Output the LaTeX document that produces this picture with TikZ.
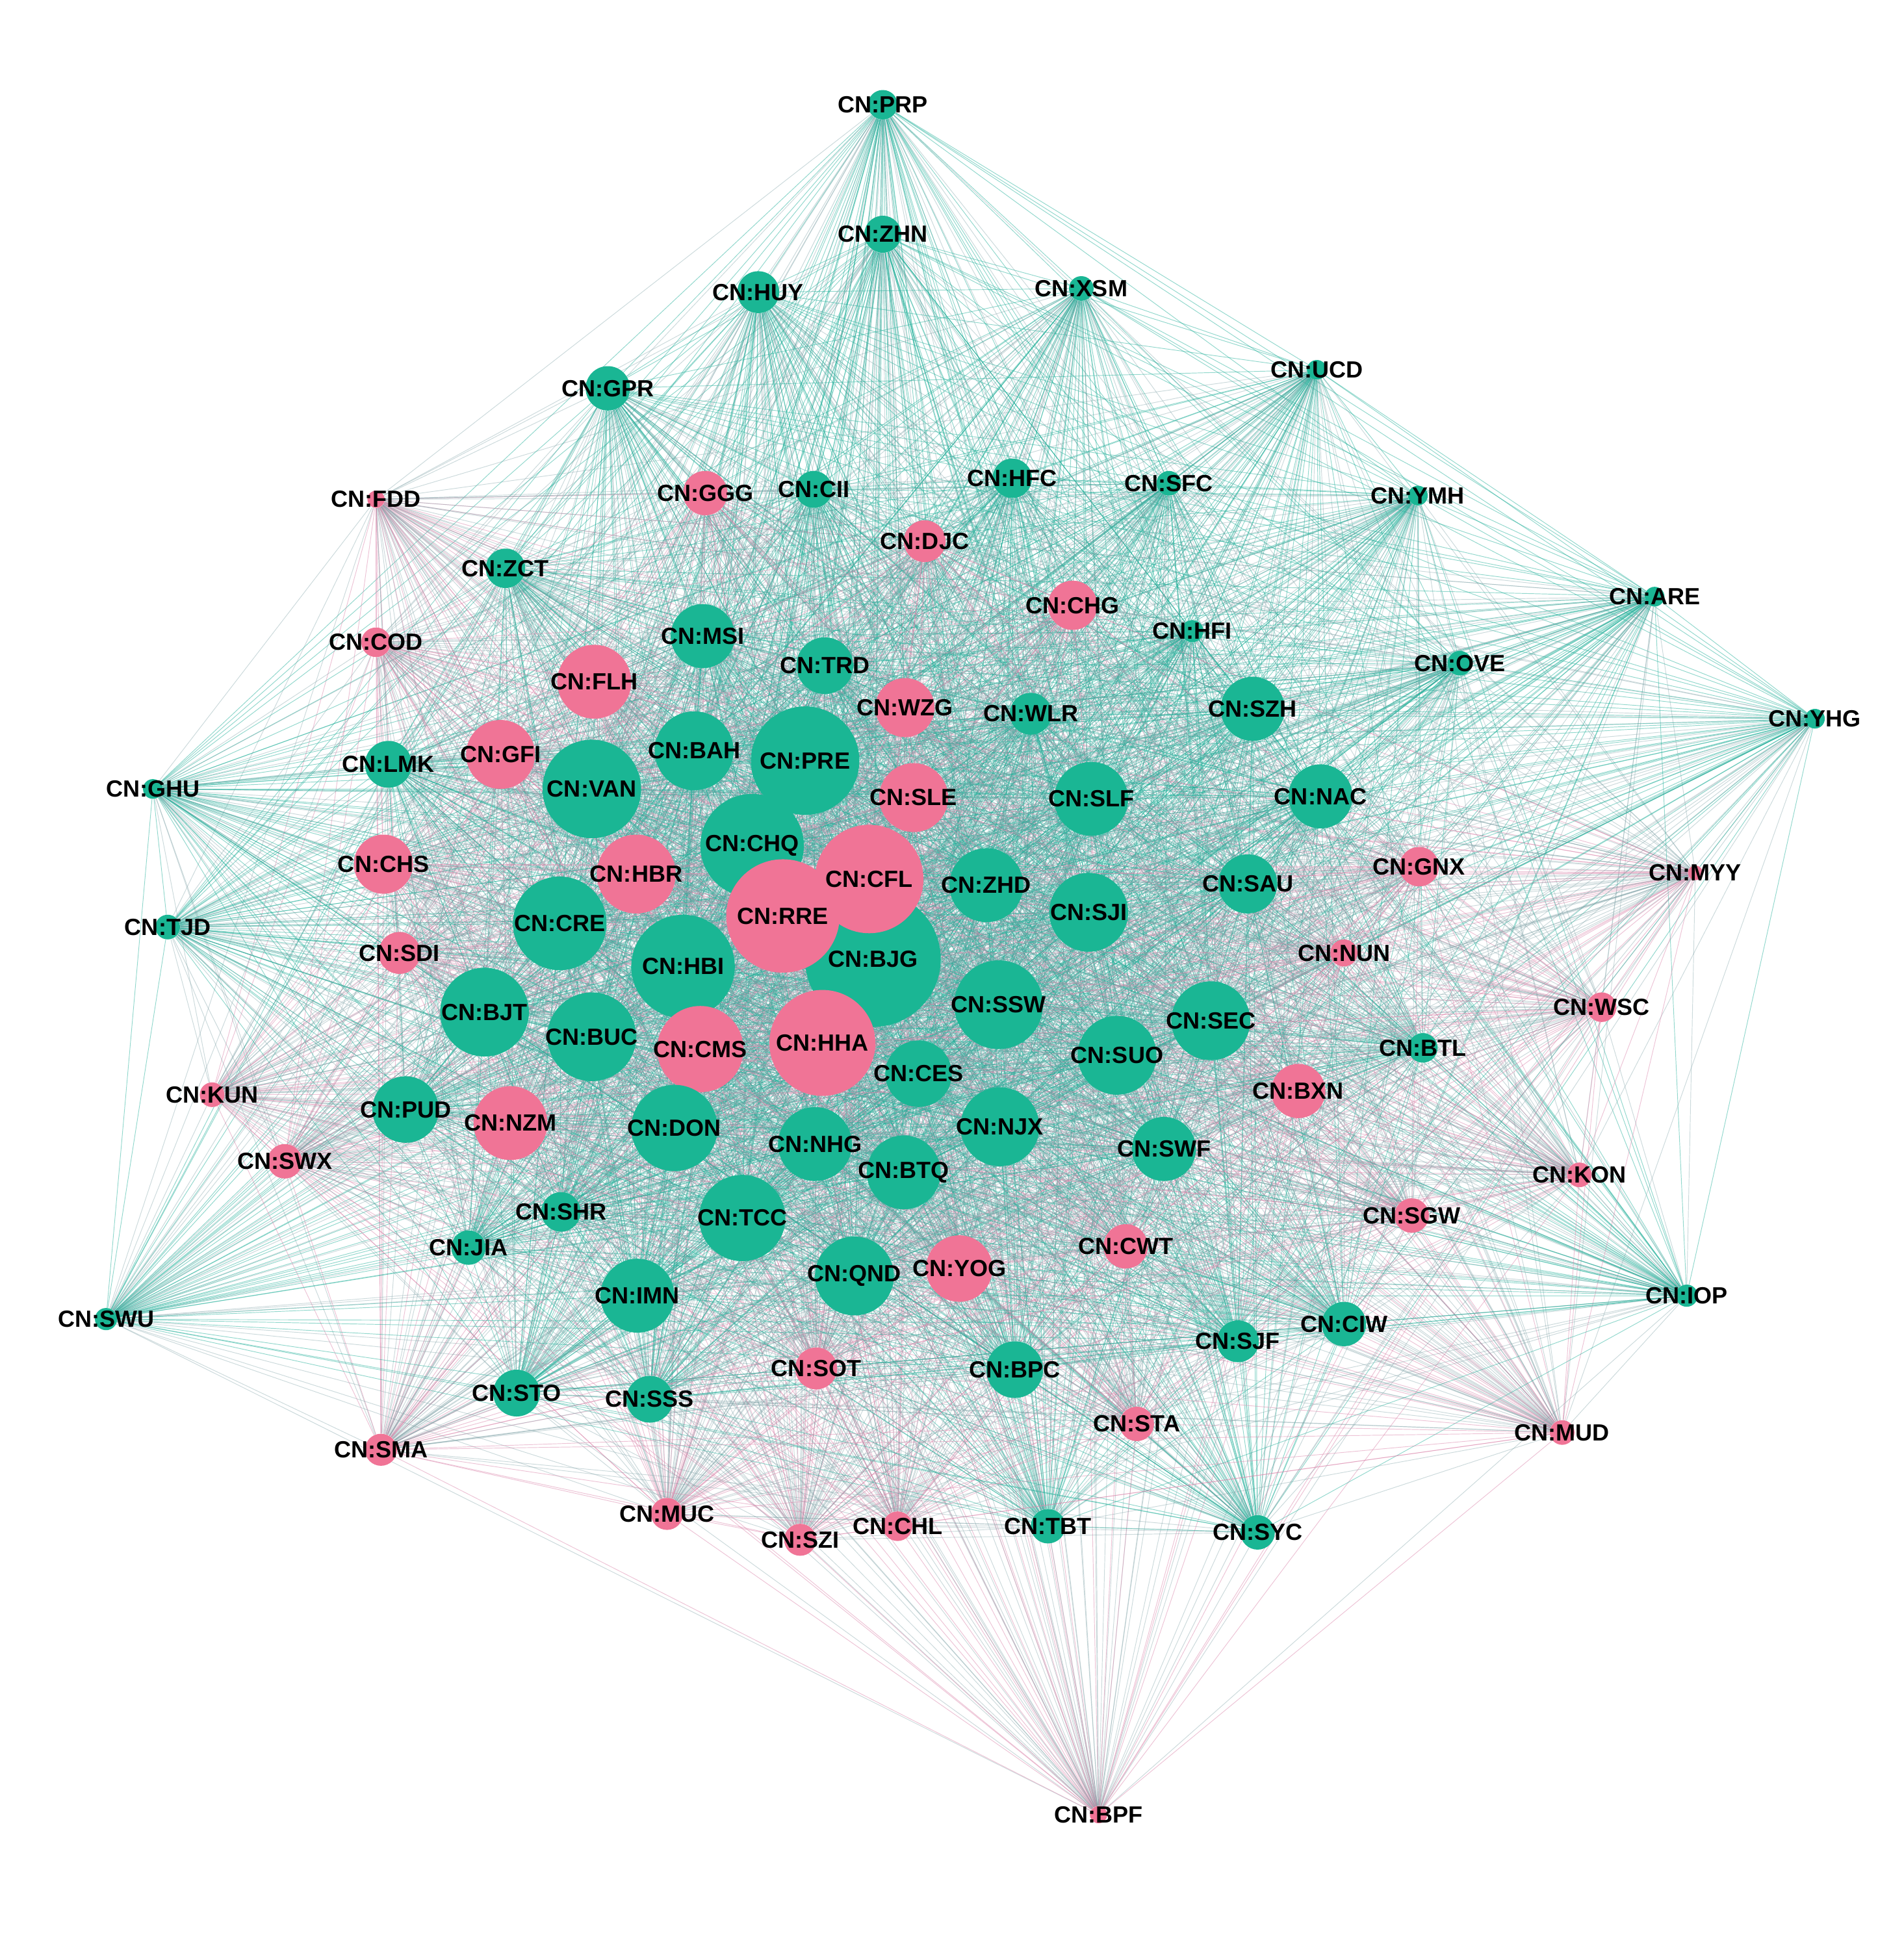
\documentclass[tikz,border=0pt]{standalone}
\usepackage{fontspec}
\setmainfont{Liberation Sans}
\definecolor{nteal}{RGB}{26,182,148}
\definecolor{npink}{RGB}{240,116,150}
\definecolor{eteal}{RGB}{34,176,154}
\definecolor{epink}{RGB}{220,135,172}
\definecolor{emix}{RGB}{125,160,165}
\pgfdeclarelayer{bg}
\pgfdeclarelayer{edges}
\pgfdeclarelayer{labels}
\pgfsetlayers{bg,edges,main,labels}
\tikzset{
  nodeT/.style={circle,fill=nteal,inner sep=0pt,draw=none},
  nodeP/.style={circle,fill=npink,inner sep=0pt,draw=none},
  lbl/.style={font=\fontsize{19}{20}\selectfont\bfseries,text=black,inner sep=0pt},
  ebase/.style={line width=0.5pt,draw opacity=0.5},
  edgeTT/.style={ebase,draw=eteal},
  edgePP/.style={ebase,draw=epink},
  edgeTP/.style={ebase,draw=emix,draw opacity=0.4},
  edgePT/.style={ebase,draw=emix,draw opacity=0.4}
}
\def\nodedata{PRP/716/85/12/T, ZHN/716/190/15/T, HUY/615/237/17/T, XSM/877/234/10/T,
UCD/1068/300/8/T, GPR/493/315/18/T, FDD/305/405/7/P, GGG/572/400/18/P,
CII/660/397/15/T, HFC/821/388/16/T, SFC/948/392/10/T, YMH/1150/402/8/T,
DJC/750/439/17/P, ZCT/410/461/16/T, CHG/870/491/20/P, HFI/967/512/9/T,
ARE/1342/484/8/T, COD/305/521/12/P, MSI/570/516/26/T, TRD/669/540/23/T,
FLH/482/553/30/P, OVE/1184/538/10/T, WZG/734/574/24/P, WLR/836/579/17/T,
SZH/1016/575/26/T, YHG/1472/583/8/T, GHU/124/640/8/T, LMK/315/620/19/T,
GFI/406/612/28/P, VAN/480/640/40/T, BAH/563/609/32/T, PRE/653/617/44/T,
SLE/741/647/28/P, SLF/885/648/30/T, NAC/1071/646/26/T, CHS/311/701/24/P,
HBR/516/709/32/P, CHQ/610/686/42/T, BJG/708/778/55/T, CFL/705/713/44/P,
ZHD/800/718/30/T, SJI/883/740/32/T, SAU/1012/717/24/T, GNX/1151/703/16/P,
MYY/1375/708/6/P, TJD/136/752/10/T, CRE/454/749/38/T, RRE/635/743/46/P,
HBI/554/784/42/T, SDI/324/773/17/P, NUN/1090/773/11/P, SSW/810/815/36/T,
BJT/393/821/36/T, BUC/480/841/36/T, CMS/568/851/35/P, HHA/667/846/43/P,
SEC/982/828/32/T, WSC/1299/817/12/P, BTL/1154/850/12/T, CES/745/871/27/T,
SUO/906/856/32/T, KUN/172/888/10/P, BXN/1053/885/22/P, PUD/329/900/27/T,
NZM/414/911/30/P, DON/547/915/35/T, NHG/661/928/30/T, NJX/811/914/32/T,
BTQ/733/951/30/T, SWF/944/932/26/T, SWX/231/942/14/P, KON/1281/953/10/P,
SHR/455/983/16/T, TCC/602/988/35/T, SGW/1145/986/14/P, CWT/913/1011/18/P,
JIA/380/1012/14/T, QND/693/1035/32/T, YOG/778/1029/27/P, IMN/517/1051/30/T,
IOP/1368/1051/9/T, SWU/86/1070/9/T, CIW/1090/1074/18/T, SJF/1004/1088/17/T,
SOT/662/1110/17/P, BPC/823/1111/23/T, STO/419/1130/19/T, SSS/527/1135/19/T,
STA/922/1155/14/P, MUD/1267/1162/10/P, SMA/309/1176/13/P, MUC/541/1228/13/P,
SZI/649/1249/13/P, CHL/728/1238/12/P, TBT/850/1238/14/T, SYC/1020/1243/14/T,
BPF/891/1472/7/P}
\begin{document}
\begin{tikzpicture}[x=1pt,y=-1pt]
\begin{pgfonlayer}{bg}
\fill[white] (0,0) rectangle (1544,1568);
\end{pgfonlayer}
\useasboundingbox (0,0) rectangle (1544,1568);
% nodes
\foreach \n/\x/\y/\r/\c in \nodedata {
  \node[node\c,minimum size={2*\r pt}] (\n) at (\x,\y) {};
}
% edges
\begin{pgfonlayer}{edges}
\foreach \na/\xa/\ya/\ra/\ca [count=\i] in \nodedata {
  \foreach \nb/\xb/\yb/\rb/\cb [count=\j] in \nodedata {
    \ifnum\j>\i
      \pgfmathtruncatemacro\keep{veclen(\xa-\xb,\ya-\yb)<1150 ? 1 : 0}
      \ifnum\keep=1
        \draw[edge\ca\cb] (\na) -- (\nb);
      \fi
    \fi
  }
}
\end{pgfonlayer}
% labels
\begin{pgfonlayer}{labels}
\foreach \n/\x/\y/\r/\c in \nodedata {
  \node[lbl] at (\n) {CN:\n};
}
\end{pgfonlayer}
\end{tikzpicture}
\end{document}
